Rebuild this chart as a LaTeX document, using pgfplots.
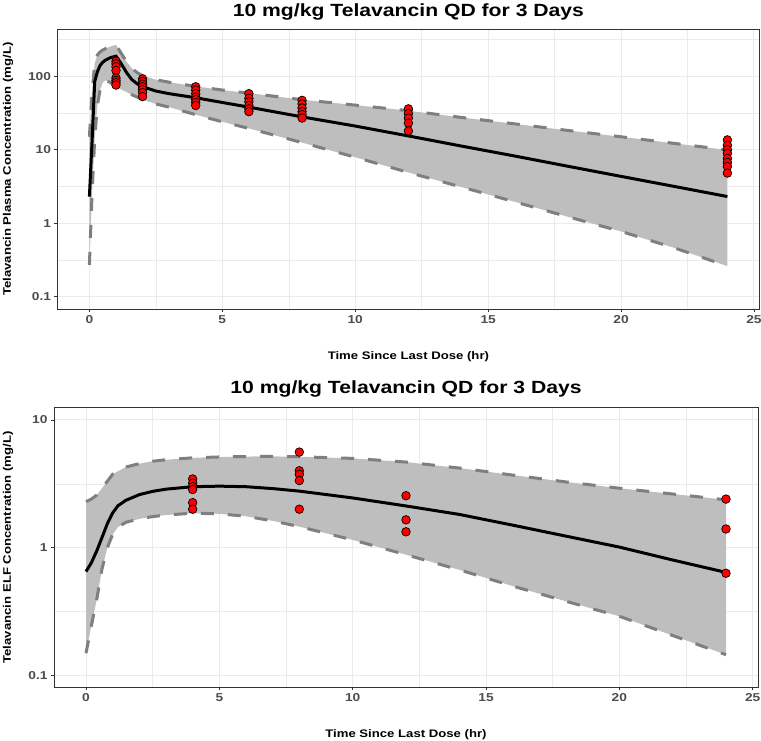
\documentclass[border=0pt]{standalone}
\usepackage{fontspec}
\setmainfont{Liberation Sans}[FakeStretch=1.2]
\usepackage{pgfplots}
\pgfplotsset{compat=1.18}
\usepackage{pgfplotstable}

\definecolor{bandfill}{HTML}{BEBEBE}
\definecolor{bandline}{HTML}{7F7F7F}
\definecolor{gridcol}{HTML}{EBEBEB}
\definecolor{tickcol}{HTML}{4D4D4D}
\definecolor{framecol}{HTML}{333333}

% plasma: 90% prediction interval (lo, hi) and median profile
\pgfplotstableread{
t    lo    med   hi
0    0.27  2.3   15
0.1  2.5   13    60
0.2  14    85    150
0.3  40    115   195
0.4  65    140   215
0.5  82    155   228
0.6  88    166   238
0.8  82    180   255
1.0  72    188   268
1.2  66    148   205
1.4  61    112   158
1.6  56    90    128
1.8  52    79    112
2.0  48    72    102
2.5  42    63    90
3    38    58    83
4    30    51    73
5    24    44    65
6    19.5  38    59
8    12.5  28    48
10   7.9   21    40.5
12   4.9   15.4  34
14   3.1   11.2  27.5
16   1.95  8.2   22.5
18   1.22  5.95  18.3
20   0.77  4.33  15
22   0.46  3.16  12.2
24   0.26  2.3   9.9
}\plasmaband

% plasma: shaded region outline (upper bound forward, lower bound back)
\pgfplotstableread{
t    c
0    15
0.1  60
0.2  150
0.3  195
0.4  215
0.5  228
0.6  238
0.8  255
1.0  268
1.2  205
1.4  158
1.6  128
1.8  112
2.0  102
2.5  90
3    83
4    73
5    65
6    59
8    48
10   40.5
12   34
14   27.5
16   22.5
18   18.3
20   15
22   12.2
24   9.9
24   0.26
22   0.46
20   0.77
18   1.22
16   1.95
14   3.1
12   4.9
10   7.9
8    12.5
6    19.5
5    24
4    30
3    38
2.5  42
2.0  48
1.8  52
1.6  56
1.4  61
1.2  66
1.0  72
0.8  82
0.6  88
0.5  82
0.4  65
0.3  40
0.2  14
0.1  2.5
0    0.27
}\plasmaarea

% plasma: observed concentrations
\pgfplotstableread{
t   c
1   160
1   148
1   135
1   120
1   95
1   88
1   82
1   76
2   92
2   85
2   78
2   72
2   66
2   60
2   53
4   72
4   65
4   58
4   52
4   48
4   44
4   40
6   58
6   50
6   45
6   40
6   36
6   33
8   47
8   42
8   37
8   33
8   30
8   27
12  36
12  31
12  27
12  23
12  18
24  13.6
24  11.5
24  10
24  8.9
24  7.6
24  6.7
24  5.9
24  4.8
}\plasmaobs

% ELF: 90% prediction interval (lo, hi) and median profile
\pgfplotstableread{
t    lo     med   hi
0    0.149  0.65  2.29
0.2  0.244  0.76  2.4
0.4  0.39   0.94  2.58
0.6  0.68   1.2   2.92
0.8  1.0    1.54  3.31
1.0  1.27   1.87  3.76
1.2  1.45   2.13  3.97
1.5  1.58   2.35  4.28
2    1.68   2.6   4.55
2.5  1.75   2.76  4.75
3    1.8    2.87  4.88
4    1.86   3.0   5.05
5    1.84   3.03  5.13
6    1.76   3.0   5.17
7    1.62   2.9   5.18
8    1.46   2.77  5.15
10   1.15   2.45  5.0
12   0.88   2.12  4.68
14   0.67   1.82  4.2
16   0.5    1.5   3.7
18   0.38   1.23  3.27
20   0.29   1.01  2.92
22   0.205  0.8   2.63
24   0.145  0.64  2.37
}\elfband

% ELF: shaded region outline (upper bound forward, lower bound back)
\pgfplotstableread{
t    c
0    2.29
0.2  2.4
0.4  2.58
0.6  2.92
0.8  3.31
1.0  3.76
1.2  3.97
1.5  4.28
2    4.55
2.5  4.75
3    4.88
4    5.05
5    5.13
6    5.17
7    5.18
8    5.15
10   5.0
12   4.68
14   4.2
16   3.7
18   3.27
20   2.92
22   2.63
24   2.37
24   0.145
22   0.205
20   0.29
18   0.38
16   0.5
14   0.67
12   0.88
10   1.15
8    1.46
7    1.62
6    1.76
5    1.84
4    1.86
3    1.8
2.5  1.75
2    1.68
1.5  1.58
1.2  1.45
1.0  1.27
0.8  1.0
0.6  0.68
0.4  0.39
0.2  0.244
0    0.149
}\elfarea

% ELF: observed concentrations
\pgfplotstableread{
t   c
4   3.45
4   3.2
4   3.0
4   2.85
4   2.25
4   2.0
8   5.6
8   4.0
8   3.75
8   3.35
8   2.0
12  2.55
12  1.65
12  1.33
24  2.4
24  1.4
24  0.63
}\elfobs

\pgfplotsset{
  every axis title/.style={font=\bfseries\fontsize{17.7}{20}\selectfont, anchor=base},
  pkpanel/.style={
    scale only axis,
    xmin=-1.2, xmax=25.2,
    xtick={0,5,10,15,20,25},
    xticklabels={0,5,10,15,20,25},
    minor xtick={2.5,7.5,12.5,17.5,22.5},
    grid=both,
    major grid style={draw=gridcol, line width=1bp},
    minor grid style={draw=gridcol, line width=0.5bp},
    tick align=outside,
    tick pos=left,
    major tick length=3bp,
    minor tick length=0pt,
    tick style={draw=framecol, line width=0.8bp},
    axis line style={draw=framecol, line width=0.8bp},
    tick label style={font=\bfseries\fontsize{11.5}{13}\selectfont, text=tickcol},
    label style={font=\bfseries\fontsize{11}{13}\selectfont},
    xlabel={Time Since Last Dose (hr)},
  },
  pibound/.style={draw=bandline, line width=3bp, dash pattern=on 13bp off 14bp},
  medianline/.style={draw=black, line width=3bp},
  obsmarks/.style={only marks, mark=*, mark size=4.3bp,
    mark options={fill=red, draw=black, line width=0.7bp}},
}

\begin{document}
\begin{tikzpicture}
\path[use as bounding box] (0,0) rectangle (761bp,741bp);

% plasma panel
\begin{semilogyaxis}[pkpanel,
  at={(57.5bp,432bp)}, anchor=south west,
  width=701.8bp, height=280bp,
  ymin=0.0676, ymax=441,
  ytick={0.1,1,10,100}, yticklabels={0.1,1,10,100},
  minor ytick={0.316228,3.16228,31.6228,316.228},
  title={10 mg/kg Telavancin QD for 3 Days},
  title style={at={(axis description cs:0.5,1.0464)}},
  xlabel style={at={(axis description cs:0.5,-0.1786)}, anchor=base},
  ylabel={Telavancin Plasma Concentration (mg/L)},
  ylabel style={at={(axis description cs:-0.0705,0.5)}, anchor=center},
]
\addplot[fill=bandfill, draw=none] table[x=t, y=c] {\plasmaarea} -- cycle;
\addplot[pibound] table[x=t, y=hi] {\plasmaband};
\addplot[pibound] table[x=t, y=lo] {\plasmaband};
\addplot[medianline] table[x=t, y=med] {\plasmaband};
\addplot[obsmarks] table[x=t, y=c] {\plasmaobs};
\end{semilogyaxis}

% ELF panel
\begin{semilogyaxis}[pkpanel,
  at={(54bp,54bp)}, anchor=south west,
  width=704bp, height=279.3bp,
  ymin=0.081, ymax=12.47,
  ytick={0.1,1,10}, yticklabels={0.1,1,10},
  minor ytick={0.316228,3.16228},
  title={10 mg/kg Telavancin QD for 3 Days},
  title style={at={(axis description cs:0.5,1.0516)}},
  xlabel style={at={(axis description cs:0.5,-0.1808)}, anchor=base},
  ylabel={Telavancin ELF Concentration (mg/L)},
  ylabel style={at={(axis description cs:-0.0653,0.5)}, anchor=center},
]
\addplot[fill=bandfill, draw=none] table[x=t, y=c] {\elfarea} -- cycle;
\addplot[pibound] table[x=t, y=hi] {\elfband};
\addplot[pibound] table[x=t, y=lo] {\elfband};
\addplot[medianline] table[x=t, y=med] {\elfband};
\addplot[obsmarks] table[x=t, y=c] {\elfobs};
\end{semilogyaxis}
\end{tikzpicture}
\end{document}
